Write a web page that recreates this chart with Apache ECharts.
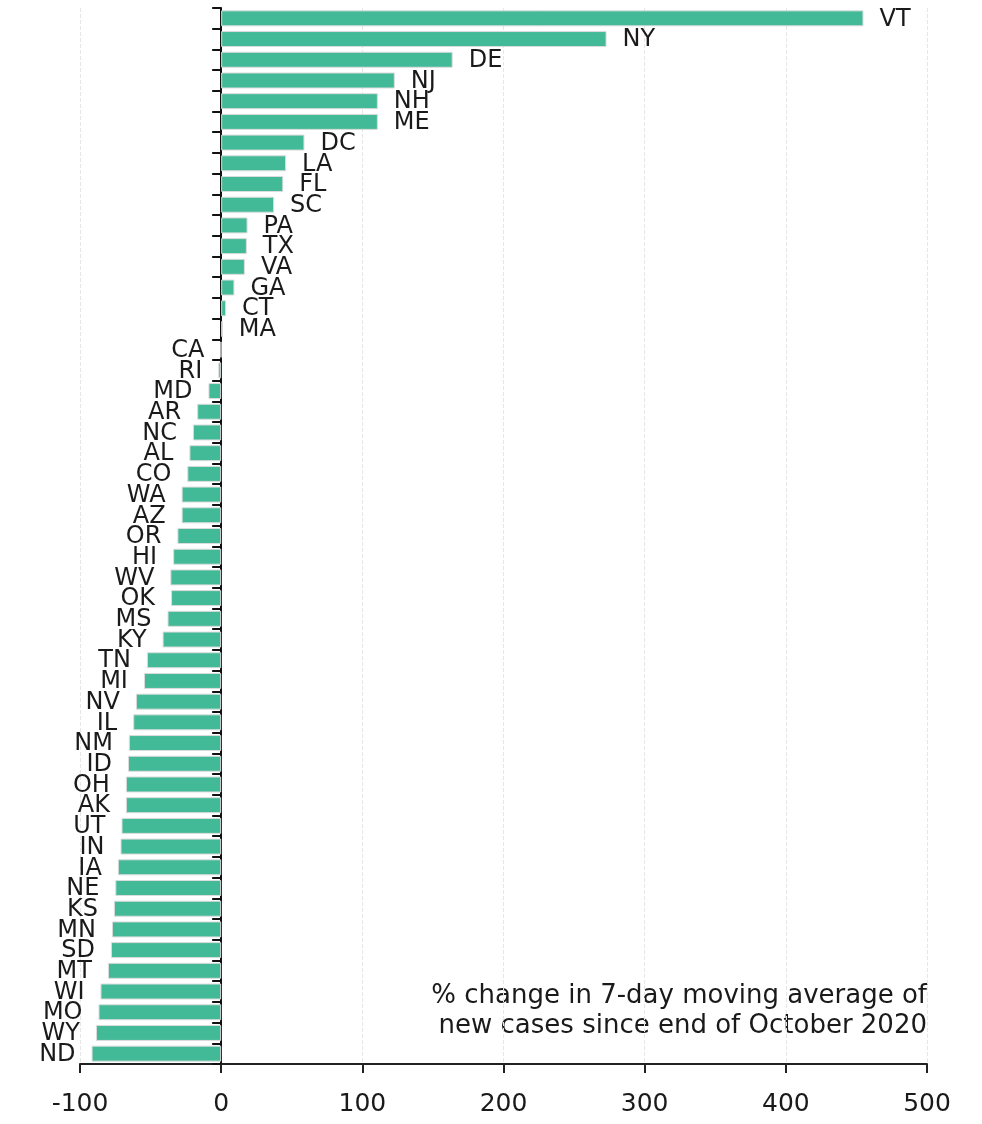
<!DOCTYPE html>
<html>
<head>
<meta charset="utf-8">
<script src="https://cdn.jsdelivr.net/npm/echarts@6/dist/echarts.min.js"></script>
<style>
  html, body { margin: 0; padding: 0; background: #fff; }
  #chart { width: 982px; height: 1124px; }
</style>
</head>
<body>
<div id="chart"></div>
<script>
// states, sorted from the biggest rise to the biggest fall
var states = ['VT','NY','DE','NJ','NH','ME','DC','LA','FL','SC','PA','TX','VA','GA','CT','MA',
  'CA','RI','MD','AR','NC','AL','CO','WA','AZ','OR','HI','WV','OK','MS','KY','TN','MI','NV',
  'IL','NM','ID','OH','AK','UT','IN','IA','NE','KS','MN','SD','MT','WI','MO','WY','ND']
// % change
var change = [455, 273, 164, 123, 111, 111, 59, 46, 44, 37.5, 18.7, 18.2, 16.8, 9.4, 3.5, 1.2,
  -0.3, -2, -9, -17, -20, -22.5, -24, -28, -28, -31, -34, -36, -35.5, -38, -41.5, -52.6, -54.7, -60.4,
  -62.3, -65.4, -66, -67.5, -67.5, -70.6, -71.3, -73.2, -75, -76, -77.4, -78.1, -80.2, -85.5, -86.9, -88.7, -91.8]
var xTicks = [-100, 0, 100, 200, 300, 400, 500]
var note = ['% change in 7-day moving average of', 'new cases since end of October 2020']

var font = 'DejaVu Sans'
var myChart = echarts.init(document.getElementById('chart'))

var barData = change.map(function (v, i) {
  return {
    value: v,
    name: states[i],
    label: { position: v < 0 ? 'left' : 'right' }
  }
})

var option = {
  backgroundColor: '#fff',
  animation: false,
  grid: { left: 80, right: 55, top: 8, bottom: 60 },
  xAxis: {
    type: 'value',
    min: xTicks[0],
    max: xTicks[xTicks.length - 1],
    interval: 100,
    axisLine: { show: true, lineStyle: { color: '#222', width: 2 } },
    axisTick: { show: true, length: 9, lineStyle: { color: '#222', width: 2 } },
    axisLabel: { fontFamily: font, fontSize: 25, color: '#1a1a1a', margin: 28 },
    splitLine: { show: true, lineStyle: { color: '#e6e6e6', type: 'dashed', width: 1 } }
  },
  yAxis: {
    type: 'category',
    data: states,
    inverse: true,
    axisLine: { show: true, onZero: true, lineStyle: { color: '#111', width: 2 } },
    axisTick: { show: true, length: 9, inside: false, lineStyle: { color: '#111', width: 2 } },
    axisLabel: { show: false },
    splitLine: { show: false }
  },
  series: [{
    type: 'bar',
    data: barData,
    barWidth: 16,
    itemStyle: { color: '#43ba97', borderColor: '#dcdcdc', borderWidth: 1 },
    label: {
      show: true,
      formatter: '{b}',
      distance: 16,
      offset: [0, 1],
      fontFamily: font,
      fontSize: 24,
      color: '#1a1a1a'
    }
  }],
  graphic: [{
    type: 'text',
    right: 55,
    top: 981,
    style: {
      text: note.join('\n'),
      font: '26px "DejaVu Sans"',
      fill: '#1a1a1a',
      textAlign: 'right',
      lineHeight: 30
    }
  }]
}
myChart.setOption(option)
</script>
</body>
</html>
